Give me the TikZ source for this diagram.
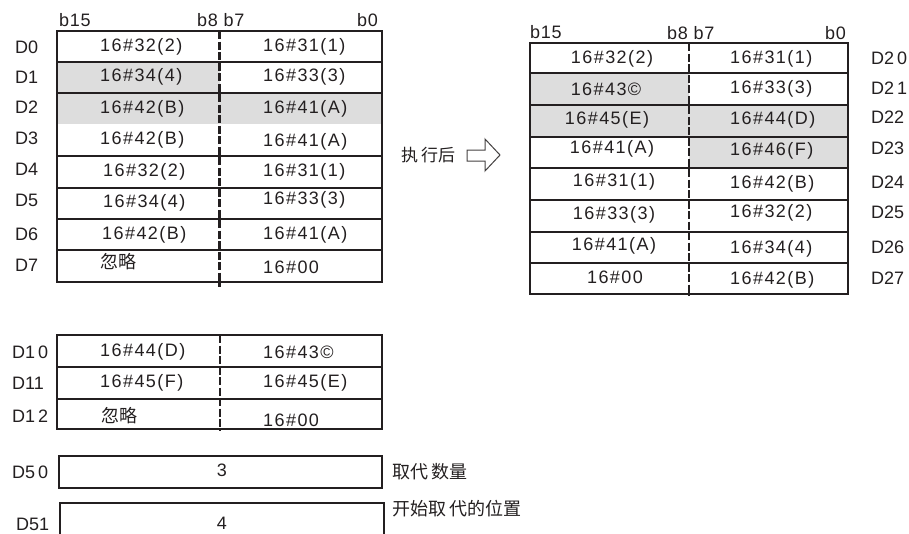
\documentclass[tikz,border=0pt]{standalone}
\usepackage{fontspec}
\setmainfont{Liberation Sans}
\newfontfamily\cjk{Noto Sans CJK SC}
\newfontfamily\cellfont[LetterSpace=8]{Liberation Sans}
\newfontfamily\bitfont[LetterSpace=4]{Liberation Sans}
\definecolor{cellgray}{RGB}{221,221,221}
\definecolor{ink}{RGB}{35,31,32}
\newcommand{\gp}{\kern3pt}
\begin{document}
\begin{tikzpicture}[x=1pt,y=-1pt,
  every node/.style={inner sep=0pt,text=ink},
  cellc/.style={font=\cellfont\fontsize{18}{20}\selectfont,anchor=center},
  cellw/.style={font=\cellfont\fontsize{18}{20}\selectfont,anchor=west},
  zhcell/.style={font=\cjk\fontsize{18}{20}\selectfont,anchor=west},
  reg/.style={font=\fontsize{18}{20}\selectfont,anchor=west},
  bitlbl/.style={font=\bitfont\fontsize{18}{20}\selectfont,anchor=west},
  zh/.style={font=\cjk\fontsize{18}{20}\selectfont,anchor=west},
  frame/.style={draw=ink,line width=1.8pt},
  sep/.style={draw=ink,line width=2.4pt},
  thinsep/.style={draw=ink,line width=1.8pt},
  mid/.style={draw=ink,line width=2.6pt,dash pattern=on 8pt off 2.5pt},
  blockarrow/.style={draw=ink!85,line width=1pt,fill=white,line join=miter}]
\useasboundingbox (0,0) rectangle (909,533);

% ---------- left table D0..D7 ----------
\fill[cellgray] (57,62) rectangle (219.5,124);
\fill[cellgray] (219.5,93) rectangle (382,124);
\foreach \yy in {62,93,156,188,219,250} \draw[sep] (57,\yy) -- (382,\yy);
\draw[frame] (57,31) rectangle (382,282);
\draw[mid] (219.5,31) -- (219.5,287);

\node[bitlbl] (Lb15) at (59,20) {b15};
\node[bitlbl] (Lb8) at (197,20) {b8 b7};
\node[bitlbl] (Lb0) at (357,20) {b0};

\node[reg] (D0) at (15,47) {D0};
\node[reg] (D1) at (15,77) {D1};
\node[reg] (D2) at (15,107) {D2};
\node[reg] (D3) at (15,138) {D3};
\node[reg] (D4) at (15,169) {D4};
\node[reg] (D5) at (15,200) {D5};
\node[reg] (D6) at (15,234) {D6};
\node[reg] (D7) at (15,265) {D7};

\node[cellw] (a0) at (100,47) {16\#32(2)};
\node[cellw] (a1) at (100,77) {16\#34(4)};
\node[cellw] (a2) at (100,109) {16\#42(B)};
\node[cellw] (a3) at (100,140) {16\#42(B)};
\node[cellw] (a4) at (103,172) {16\#32(2)};
\node[cellw] (a5) at (103,203) {16\#34(4)};
\node[cellw] (a6) at (102,235) {16\#42(B)};
\node[zhcell] (a7) at (100,262) {忽略};

\node[cellw] (b0) at (263,47) {16\#31(1)};
\node[cellw] (b1) at (263,77) {16\#33(3)};
\node[cellw] (b2) at (263,109) {16\#41(A)};
\node[cellw] (b3) at (263,142) {16\#41(A)};
\node[cellw] (b4) at (263,172) {16\#31(1)};
\node[cellw] (b5) at (263,200) {16\#33(3)};
\node[cellw] (b6) at (263,235) {16\#41(A)};
\node[cellw] (b7) at (263,267) {16\#00};

% ---------- arrow ----------
\node[font=\cjk\fontsize{17}{19}\selectfont,anchor=west] (exec) at (401,155) {执\,行后};
\draw[blockarrow] (467,150) -- (485,150) -- (485,139) -- (500,155) -- (485,171) -- (485,161) -- (467,161) -- cycle;

% ---------- right table D20..D27 ----------
\fill[cellgray] (530,73) rectangle (689,105);
\fill[cellgray] (530,105) rectangle (848,137);
\fill[cellgray] (689,137) rectangle (848,168);
\foreach \yy in {73,105,137,168} \draw[sep] (530,\yy) -- (848,\yy);
\foreach \yy in {200,232,263} \draw[thinsep] (530,\yy) -- (848,\yy);
\draw[frame] (530,43) rectangle (848,294);
\draw[mid] (689,43) -- (689,296);

\node[bitlbl] (Rb15) at (530,32) {b15};
\node[bitlbl] (Rb8) at (667,33) {b8 b7};
\node[bitlbl] (Rb0) at (825,33) {b0};

\node[reg] (D20) at (871,58) {D2\gp0};
\node[reg] (D21) at (871,88) {D2\gp1};
\node[reg] (D22) at (871,117) {D22};
\node[reg] (D23) at (871,148) {D23};
\node[reg] (D24) at (871,182) {D24};
\node[reg] (D25) at (871,212) {D25};
\node[reg] (D26) at (871,247) {D26};
\node[reg] (D27) at (871,278) {D27};

\node[cellc] (c0) at (612,59) {16\#32(2)};
\node[cellc] (c1) at (606,89) {16\#43©};
\node[cellc] (c2) at (607,120) {16\#45(E)};
\node[cellc] (c3) at (612,149) {16\#41(A)};
\node[cellc] (c4) at (614,182) {16\#31(1)};
\node[cellc] (c5) at (614,215) {16\#33(3)};
\node[cellc] (c6) at (614,246) {16\#41(A)};
\node[cellc] (c7) at (615,277) {16\#00};

\node[cellw] (d0) at (730,59) {16\#31(1)};
\node[cellw] (d1) at (730,89) {16\#33(3)};
\node[cellw] (d2) at (730,120) {16\#44(D)};
\node[cellw] (d3) at (730,151) {16\#46(F)};
\node[cellw] (d4) at (730,184) {16\#42(B)};
\node[cellw] (d5) at (730,213) {16\#32(2)};
\node[cellw] (d6) at (730,249) {16\#34(4)};
\node[cellw] (d7) at (730,280) {16\#42(B)};

% ---------- D10..D12 ----------
\foreach \yy in {367,399} \draw[sep] (57,\yy) -- (382,\yy);
\draw[frame] (57,335) rectangle (382,429);
\draw[mid] (220,335) -- (220,430);

\node[reg] (D10) at (12,352) {D1\gp0};
\node[reg] (D11) at (12,383) {D11};
\node[reg] (D12) at (12,416) {D1\gp2};

\node[cellw] (e0) at (100,352) {16\#44(D)};
\node[cellw] (e1) at (100,383) {16\#45(F)};
\node[zhcell] (e2) at (101,416) {忽略};
\node[cellw] (f0) at (263,352) {16\#43©};
\node[cellw] (f1) at (263,383) {16\#45(E)};
\node[cellw] (f2) at (263,420) {16\#00};

% ---------- D50, D51 ----------
\draw[frame] (59,456) rectangle (382,488);
\draw[frame] (60,503) rectangle (384,545);
\node[reg] (D50) at (12,472) {D5\gp0};
\node[reg] (D51) at (16,524) {D51};
\node[cellc] (n3) at (222,470) {3};
\node[cellc] (n4) at (222,523) {4};
\node[zh] (cnt) at (392,472) {取代\,数量};
\node[zh] (pos) at (392,509) {开始取\,代的位置};
\end{tikzpicture}
\end{document}
